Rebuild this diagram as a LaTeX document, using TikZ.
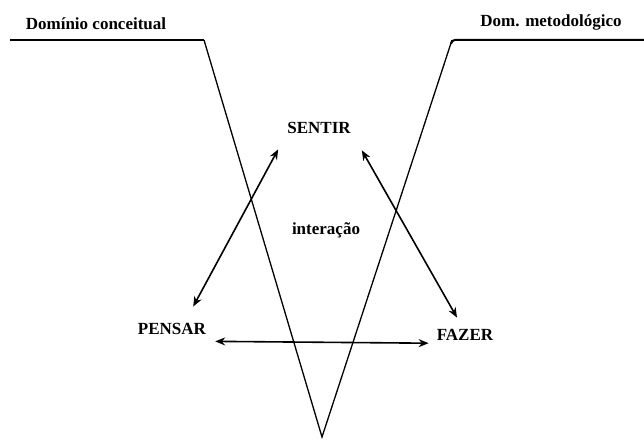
\documentclass[tikz,border=0pt]{standalone}
\usepackage{fontspec}
\setmainfont{Liberation Serif}
\usetikzlibrary{arrows.meta}

\begin{document}
\begin{tikzpicture}[x=1pt, y=-1pt, >={Stealth[length=10pt, width=8pt]},
    lbl/.style={font=\fontsize{17}{19}\selectfont\bfseries, anchor=base, inner sep=3pt},
    rel/.style={<->, line width=1.6pt}]

    \useasboundingbox (0,0) rectangle (644,446);

    % os dois domínios
    \node[lbl] (conc) at (96,30) {Domínio conceitual};
    \node[lbl] (metod) at (551,27) {Dom. metodológico};

    % o V
    \coordinate (ea) at (10,40);
    \coordinate (eb) at (204,40);
    \coordinate (vert) at (322,437);
    \coordinate (dc) at (452,40);
    \coordinate (dd) at (644,40);
    \draw[line width=2pt] (ea) -- (eb);
    \draw[line width=1.3pt] (eb) -- (vert) -- (dc);
    \draw[line width=2pt, rounded corners=3pt] ([xshift=-1pt, yshift=-4pt]dc) -- (dc) -- (dd);

    % sentir, pensar, fazer
    \node[lbl] (sentir) at (319,134) {SENTIR};
    \node[lbl] (inter) at (326,234) {interação};
    \node[lbl] (pensar) at (172,334) {PENSAR};
    \node[lbl] (fazer) at (465,340) {FAZER};

    % setas
    \draw[rel] ([xshift=-6pt, yshift=-12pt]sentir.south west) -- ([xshift=-16pt, yshift=13pt]pensar.north east);
    \draw[rel] ([xshift=8pt, yshift=-13pt]sentir.south east) -- ([xshift=-8pt, yshift=8pt]fazer.north);
    \draw[rel] ([xshift=6pt, yshift=-4pt]pensar.south east) -- ([xshift=-5pt]fazer.south west);

\end{tikzpicture}
\end{document}
